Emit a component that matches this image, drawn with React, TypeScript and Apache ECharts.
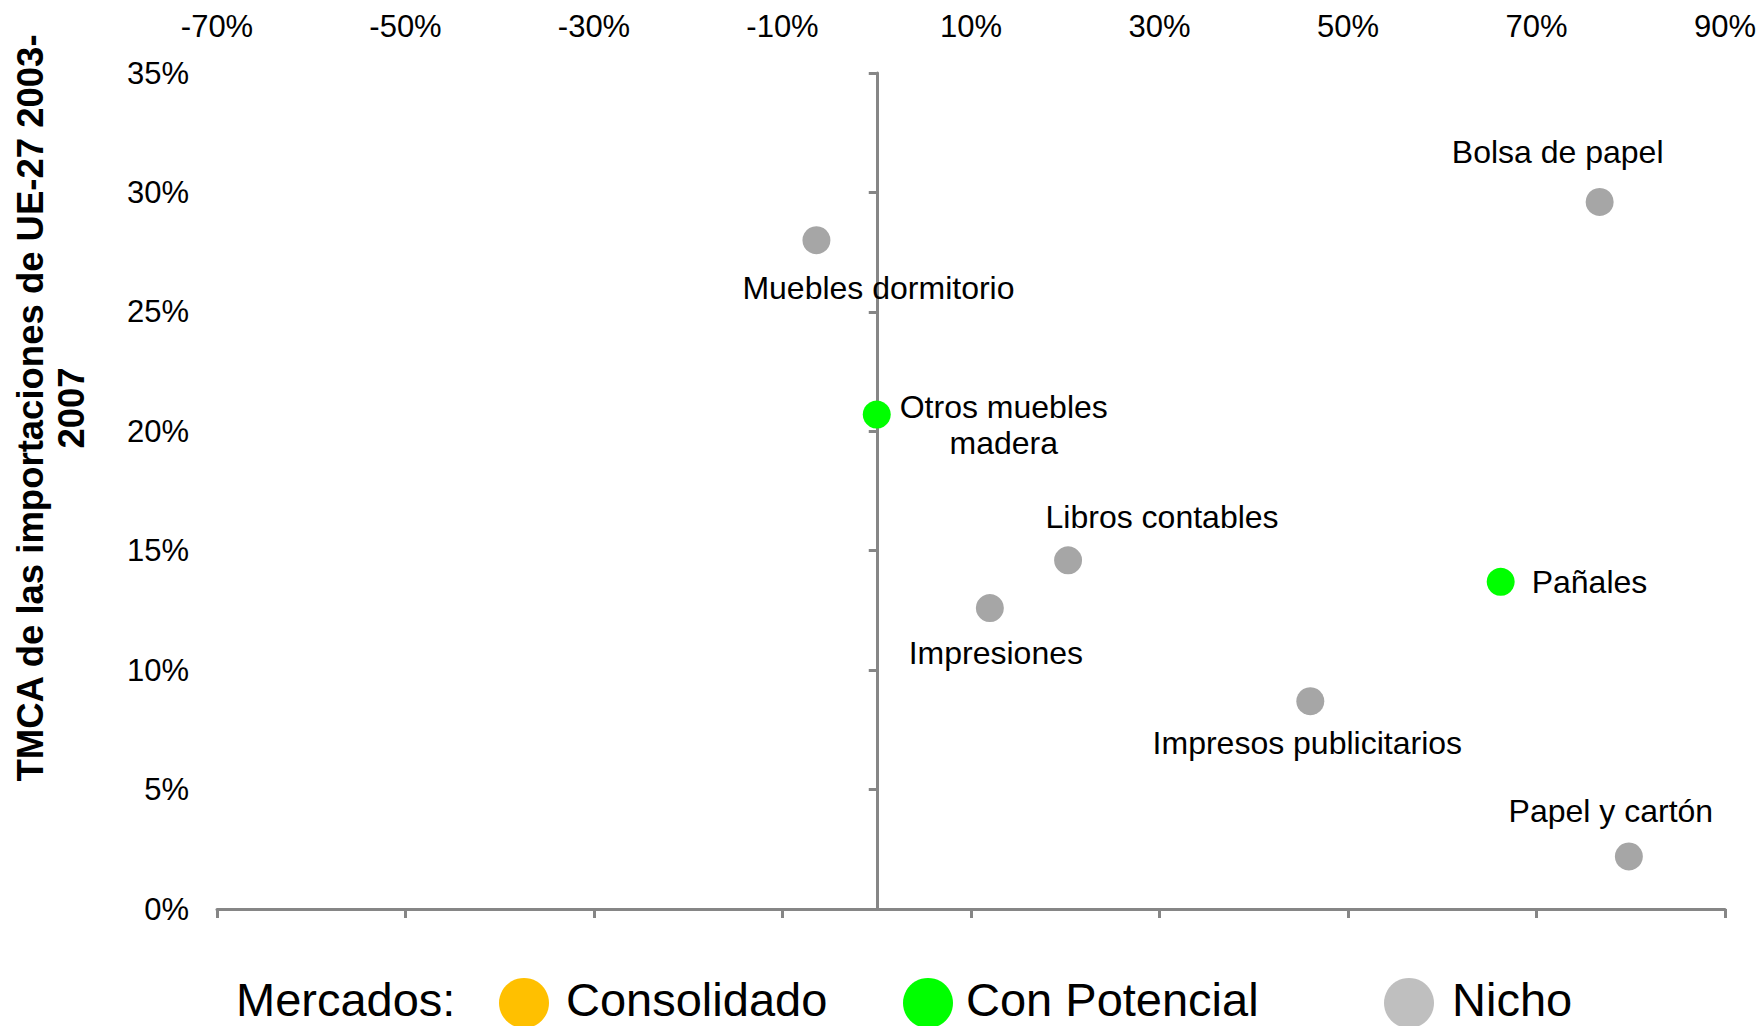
import React, { useEffect, useRef } from "react";
import * as echarts from "echarts";

// ---- Data ----
const categories = [
  "Muebles dormitorio",
  "Bolsa de papel",
  "Otros muebles\nmadera",
  "Libros contables",
  "Impresiones",
  "Pañales",
  "Impresos publicitarios",
  "Papel y cartón",
];
const xValues = [-6.4, 76.7, 0, 20.3, 12.0, 66.2, 46.0, 79.8];
const yValues = [28.0, 29.6, 20.7, 14.6, 12.6, 13.7, 8.7, 2.2];
const segments = ["Nicho", "Nicho", "Con Potencial", "Nicho", "Nicho", "Con Potencial", "Nicho", "Nicho"];
const xTickValues = [-70, -50, -30, -10, 10, 30, 50, 70, 90];
const legendItems = ["Consolidado", "Con Potencial", "Nicho"];
const yAxisTitle = "TMCA de las importaciones de UE-27 2003-\n2007";
const legendTitle = "Mercados:";

// ---- Styles / layout (kept separate from data) ----
const FONT = "'Liberation Sans', Arial, Helvetica, sans-serif";
const AXIS_COLOR = "#868686";
const pointColors: Record<string, string> = {
  Consolidado: "#FFC000",
  "Con Potencial": "#00FF00",
  Nicho: "#A6A6A6",
};
const legendColors: Record<string, string> = {
  Consolidado: "#FFC000",
  "Con Potencial": "#00FF00",
  Nicho: "#BFBFBF",
};
const labelOffsets: Record<string, [number, number]> = {
  "Muebles dormitorio": [62, 48],
  "Bolsa de papel": [-42, -50],
  "Otros muebles\nmadera": [127, 10],
  "Libros contables": [94, -43],
  Impresiones: [6, 45],
  "Impresos publicitarios": [-3, 42],
  "Papel y cartón": [-18, -45],
};
const legendLayout = [
  { cx: 524, tx: 566 },
  { cx: 928, tx: 966 },
  { cx: 1409, tx: 1452 },
];

export default function App() {
  const ref = useRef<HTMLDivElement>(null);

  useEffect(() => {
    if (!ref.current) return;
    const chart = echarts.init(ref.current, undefined, { renderer: "svg" });

    const seriesNames = ["Nicho", "Con Potencial"];
    const series = seriesNames.map((seg) => ({
      type: "scatter",
      name: seg,
      xAxisIndex: 0,
      yAxisIndex: 0,
      symbol: "circle",
      symbolSize: 28,
      itemStyle: { color: pointColors[seg], opacity: 1 },
      emphasis: { disabled: true },
      z: 5,
      data: categories
        .map((name, i) => ({ name, i }))
        .filter((d) => segments[d.i] === seg)
        .map(({ name, i }) => {
          const off = labelOffsets[name];
          return {
            name,
            value: [xValues[i], yValues[i]],
            label: off
              ? { position: "inside", offset: off, align: "center" }
              : { position: "right", distance: 17, align: "left" },
          };
        }),
      label: {
        show: true,
        formatter: "{b}",
        color: "#000",
        fontSize: 32,
        fontFamily: FONT,
        lineHeight: 36,
        textBorderWidth: 0,
        textBorderColor: "transparent",
      },
    }));

    const legendGraphics: any[] = [
      {
        type: "text",
        x: 236,
        y: 999,
        style: {
          text: legendTitle,
          fontSize: 47,
          fontFamily: FONT,
          fill: "#000",
          align: "left",
          verticalAlign: "middle",
        },
      },
    ];
    legendItems.forEach((item, k) => {
      legendGraphics.push({
        type: "circle",
        shape: { cx: legendLayout[k].cx, cy: 1003, r: 25 },
        style: { fill: legendColors[item] },
      });
      legendGraphics.push({
        type: "text",
        x: legendLayout[k].tx,
        y: 999,
        style: {
          text: item,
          fontSize: 47,
          fontFamily: FONT,
          fill: "#000",
          align: "left",
          verticalAlign: "middle",
        },
      });
    });

    chart.setOption({
      animation: false,
      backgroundColor: "#fff",
      textStyle: { fontFamily: FONT },
      grid: { left: 217, right: 37, top: 73, bottom: 117, containLabel: false },
      xAxis: [
        {
          type: "value",
          position: "bottom",
          min: -70,
          max: 90,
          axisLine: { show: true, onZero: false, lineStyle: { color: AXIS_COLOR, width: 3 } },
          axisTick: {
            show: true,
            length: 9,
            inside: false,
            customValues: xTickValues,
            lineStyle: { color: AXIS_COLOR, width: 3 },
          },
          axisLabel: { show: false },
          splitLine: { show: false },
        },
        {
          type: "value",
          position: "top",
          min: -70,
          max: 90,
          axisLine: { show: false },
          axisTick: { show: false },
          splitLine: { show: false },
          axisLabel: {
            show: true,
            customValues: xTickValues,
            formatter: "{value}%",
            fontSize: 31,
            fontFamily: FONT,
            color: "#000",
            margin: 31,
          },
        },
      ],
      yAxis: [
        {
          type: "value",
          position: "left",
          min: 0,
          max: 35,
          interval: 5,
          axisLine: { show: true, onZero: true, onZeroAxisIndex: 0, lineStyle: { color: AXIS_COLOR, width: 3 } },
          axisTick: { show: true, length: 8, inside: false, lineStyle: { color: AXIS_COLOR, width: 3 } },
          axisLabel: { show: false },
          splitLine: { show: false },
        },
        {
          type: "value",
          position: "left",
          min: 0,
          max: 35,
          interval: 5,
          axisLine: { show: false },
          axisTick: { show: false },
          splitLine: { show: false },
          axisLabel: {
            show: true,
            formatter: "{value}%",
            fontSize: 31,
            fontFamily: FONT,
            color: "#000",
            margin: 28,
          },
        },
      ],
      series,
      graphic: [
        {
          type: "text",
          x: 51,
          y: 408,
          rotation: Math.PI / 2,
          style: {
            text: yAxisTitle,
            fontSize: 36.5,
            fontWeight: "bold",
            fontFamily: FONT,
            fill: "#000",
            align: "center",
            verticalAlign: "middle",
            lineHeight: 41.5,
          },
        },
        ...legendGraphics,
      ],
    });

    return () => {
      chart.dispose();
    };
  }, []);

  return (
    <div
      ref={ref}
      style={{ position: "absolute", left: 0, top: 0, width: 1762, height: 1026, background: "#fff" }}
    />
  );
}
